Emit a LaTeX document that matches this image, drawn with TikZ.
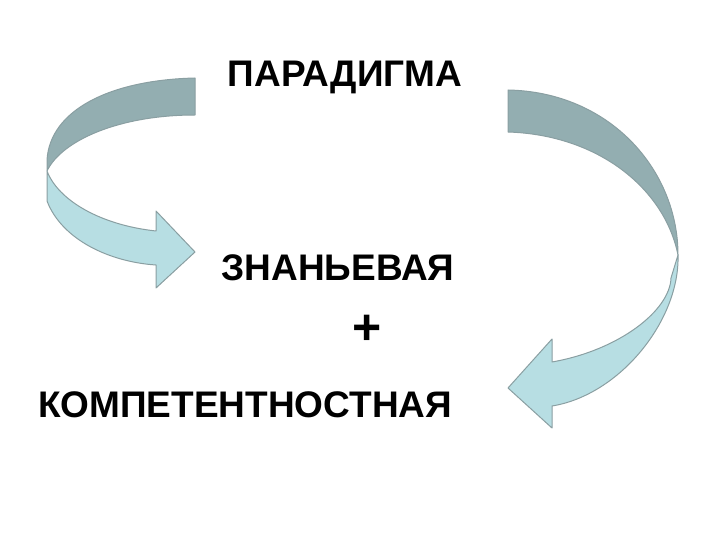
\documentclass[tikz,border=0pt]{standalone}
\usepackage{fontspec}
\setmainfont{Liberation Sans}
\definecolor{darkband}{HTML}{93AEB1}
\definecolor{lightband}{HTML}{B7DEE3}
\definecolor{edge}{HTML}{8A9FA2}
\tikzset{dark/.style={fill=darkband,draw=edge,line width=1pt,line join=round},
light/.style={fill=lightband,draw=edge,line width=1pt,line join=round},
lbl/.style={font=\fontsize{37}{40}\selectfont\bfseries,inner sep=0pt}}
\begin{document}
\begin{tikzpicture}[x=1pt,y=-1pt]
\useasboundingbox (0,0) rectangle (720,540);
% left arrow
\path[light] (47,171) -- (47,201) .. controls (62,240) and (110,262) .. (156,265) -- (156,288) -- (195,252) -- (156,211) -- (156,231) .. controls (100,225) and (58,200) .. (47,171) -- cycle;
\path[dark] (195,78) .. controls (110,80) and (50,110) .. (47,160) -- (47,171) .. controls (62,140) and (120,115) .. (195,115) -- cycle;
% right arrow
\path[light] (678,255) .. controls (680,320) and (620,395) .. (552,406) -- (552,428) -- (508,388) -- (552,339) -- (552,362) .. controls (620,350) and (670,310) .. (671,278) -- cycle;
\path[dark] (508,90) .. controls (610,92) and (678,170) .. (678,255) .. controls (665,190) and (600,135) .. (508,132) -- cycle;
\node[lbl] (p) at (345,77) {ПАРАДИГМА};
\node[lbl] (z) at (338,268) {ЗНАНЬЕВАЯ};
\node[lbl,font=\fontsize{50}{50}\selectfont\bfseries] (plus) at (367,330) {+};
\node[lbl] (k) at (245,405) {КОМПЕТЕНТНОСТНАЯ};
\end{tikzpicture}
\end{document}
